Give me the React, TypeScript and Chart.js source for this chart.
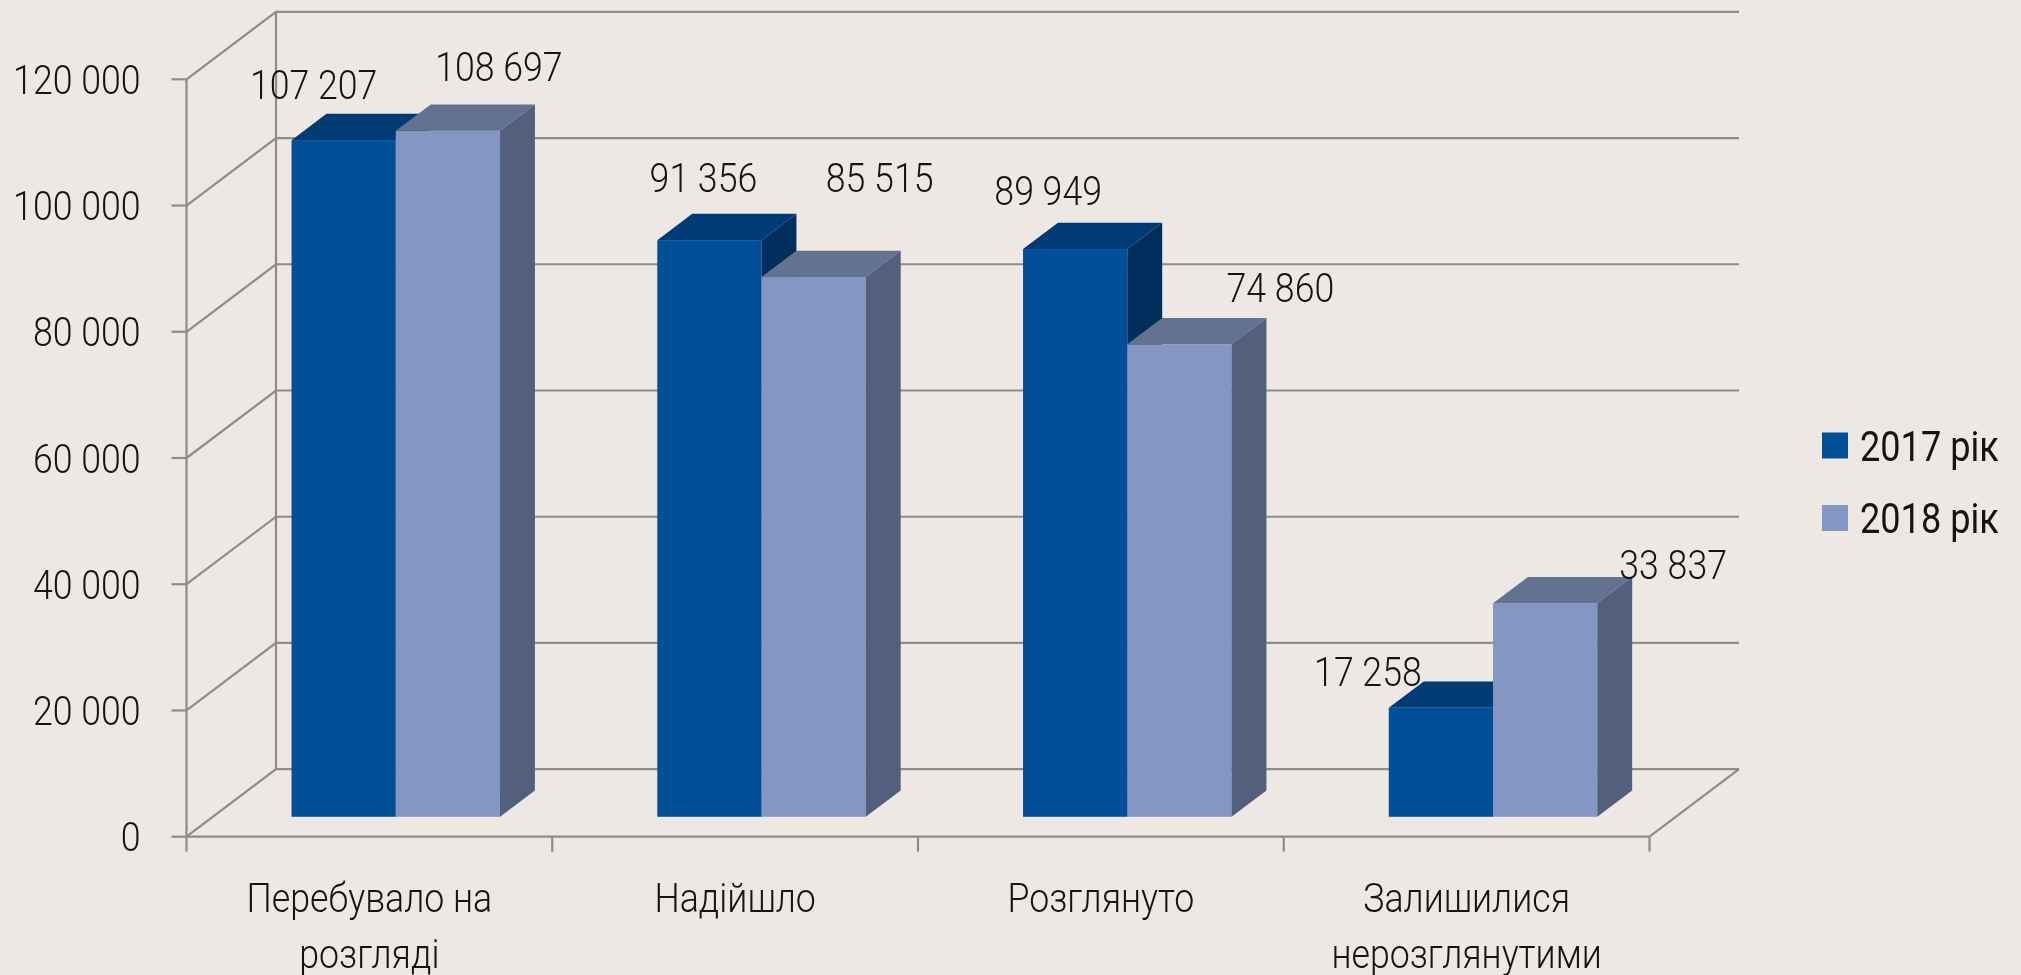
import { useEffect, useRef } from 'react';
import { Chart, registerables } from 'chart.js';

Chart.register(...registerables);

// ---------- data ----------
const categories: string[][] = [
  ['Перебувало на', 'розгляді'],
  ['Надійшло'],
  ['Розглянуто'],
  ['Залишилися', 'нерозглянутими'],
];
const seriesNames = ['2017 рік', '2018 рік'];
const values2017 = [107207, 91356, 89949, 17258];
const values2018 = [108697, 85515, 74860, 33837];
const yTicks = [0, 20000, 40000, 60000, 80000, 100000, 120000];

// ---------- style ----------
const BG = '#EEE8E5';
const GRID = '#8C8C8C';
const TEXT = '#141414';
const FRONT = ['#004F98', '#8497C4'];
const TOP = ['#003B75', '#637291'];
const SIDE = ['#002F5E', '#535F7C'];
const DEPTH = { x: 89.5, y: -67.5 }; // depth of the floor / back wall
const BAR_FRONT = 0.295; // bar front plane (fraction of depth)
const BAR_BACK = 0.685; // bar back plane (fraction of depth)
const LIGHT_FONT = 41;
const SQUEEZE = 0.87;
const LEGEND_FONT = 43;
const LEGEND_SQUEEZE = 0.84;
// data label offsets from each bar's top-front centre (px)
const labelOffset2017 = [[-30, -56], [-6, -63], [-27, -59], [-73, -36]];
const labelOffset2018 = [[51, -64], [66, -100], [101, -57], [128, -39]];

const fmt = (v: number) => String(v).replace(/\B(?=(\d{3})+(?!\d))/g, ' ');

function drawText(
  ctx: CanvasRenderingContext2D,
  text: string,
  x: number,
  baseline: number,
  align: CanvasTextAlign,
  font: string,
  sx: number
) {
  ctx.save();
  ctx.translate(x, baseline);
  ctx.scale(sx, 1);
  ctx.font = font;
  ctx.fillStyle = TEXT;
  ctx.textAlign = align;
  ctx.textBaseline = 'alphabetic';
  ctx.fillText(text, 0, 0);
  ctx.restore();
}

const pseudo3d = {
  id: 'pseudo3d',
  beforeDraw(chart: any) {
    const ctx = chart.ctx as CanvasRenderingContext2D;
    ctx.save();
    ctx.fillStyle = BG;
    ctx.fillRect(0, 0, chart.width, chart.height);
    ctx.restore();
  },
  beforeDatasetsDraw(chart: any) {
    const ctx = chart.ctx as CanvasRenderingContext2D;
    const xs = chart.scales.x;
    const ys = chart.scales.y;
    const L = chart.chartArea.left;
    const R = chart.chartArea.right;
    const B = ys.getPixelForValue(yTicks[0]);
    const T = ys.getPixelForValue(yTicks[yTicks.length - 1]);
    const lightFont = `300 ${LIGHT_FONT}px Roboto`;

    ctx.save();
    ctx.strokeStyle = GRID;
    ctx.lineWidth = 2.2;
    ctx.lineJoin = 'miter';

    // back wall grid lines with diagonals + y ticks
    yTicks.forEach((v) => {
      const y = ys.getPixelForValue(v);
      ctx.beginPath();
      ctx.moveTo(L, y);
      ctx.lineTo(L + DEPTH.x, y + DEPTH.y);
      ctx.lineTo(R + DEPTH.x, y + DEPTH.y);
      ctx.stroke();
      ctx.beginPath();
      ctx.moveTo(L - 15, y);
      ctx.lineTo(L, y);
      ctx.stroke();
    });
    // back wall left edge
    ctx.beginPath();
    ctx.moveTo(L + DEPTH.x, B + DEPTH.y);
    ctx.lineTo(L + DEPTH.x, T + DEPTH.y);
    ctx.stroke();
    // front y axis
    ctx.beginPath();
    ctx.moveTo(L, B);
    ctx.lineTo(L, T);
    ctx.stroke();
    // floor front edge + right edge
    ctx.beginPath();
    ctx.moveTo(L, B);
    ctx.lineTo(R, B);
    ctx.lineTo(R + DEPTH.x, B + DEPTH.y);
    ctx.stroke();
    // x ticks at category boundaries
    const n = categories.length;
    for (let i = 0; i <= n; i++) {
      let bx: number;
      if (i === 0) bx = L;
      else if (i === n) bx = R;
      else bx = (xs.getPixelForValue(i - 1) + xs.getPixelForValue(i)) / 2;
      ctx.beginPath();
      ctx.moveTo(bx, B);
      ctx.lineTo(bx, B + 15);
      ctx.stroke();
    }
    ctx.restore();

    // bars
    const fx = DEPTH.x * BAR_FRONT;
    const fy = DEPTH.y * BAR_FRONT;
    const dx = DEPTH.x * (BAR_BACK - BAR_FRONT);
    const dy = DEPTH.y * (BAR_BACK - BAR_FRONT);
    const tops: { x: number; y: number; ds: number; i: number; v: number }[] = [];
    for (let i = 0; i < n; i++) {
      for (let ds = 0; ds < 2; ds++) {
        const el = chart.getDatasetMeta(ds).data[i];
        const p = el.getProps(['x', 'y', 'base', 'width'], true);
        const left = p.x - p.width / 2 + fx;
        const right = p.x + p.width / 2 + fx;
        const top = p.y + fy;
        const bottom = p.base + fy;
        ctx.save();
        ctx.fillStyle = FRONT[ds];
        ctx.fillRect(left, top, right - left, bottom - top);
        ctx.fillStyle = TOP[ds];
        ctx.beginPath();
        ctx.moveTo(left, top);
        ctx.lineTo(right, top);
        ctx.lineTo(right + dx, top + dy);
        ctx.lineTo(left + dx, top + dy);
        ctx.closePath();
        ctx.fill();
        ctx.fillStyle = SIDE[ds];
        ctx.beginPath();
        ctx.moveTo(right, top);
        ctx.lineTo(right + dx, top + dy);
        ctx.lineTo(right + dx, bottom + dy);
        ctx.lineTo(right, bottom);
        ctx.closePath();
        ctx.fill();
        ctx.restore();
        const values = ds === 0 ? values2017 : values2018;
        tops.push({ x: p.x + fx, y: top, ds, i, v: values[i] });
      }
    }

    // data labels
    tops.forEach((t) => {
      const off = (t.ds === 0 ? labelOffset2017 : labelOffset2018)[t.i];
      const cx = t.x + off[0];
      const cy = t.y + off[1];
      drawText(ctx, fmt(t.v), cx, cy + 0.355 * LIGHT_FONT, 'center', lightFont, SQUEEZE);
    });

    // y tick labels
    yTicks.forEach((v) => {
      const y = ys.getPixelForValue(v);
      drawText(ctx, fmt(v), L - 46, y + 0.355 * LIGHT_FONT, 'right', lightFont, SQUEEZE);
    });

    // category labels
    categories.forEach((lines, i) => {
      const cx = xs.getPixelForValue(i);
      lines.forEach((line, k) => {
        drawText(ctx, line, cx, B + 75 + k * 56.5, 'center', lightFont, SQUEEZE);
      });
    });

    // legend
    const legendX = 1822;
    const legendY = [445.5, 518];
    seriesNames.forEach((name, k) => {
      ctx.save();
      ctx.fillStyle = FRONT[k];
      ctx.fillRect(legendX, legendY[k] - 13, 26, 26);
      ctx.restore();
      drawText(
        ctx,
        name,
        legendX + 38,
        legendY[k] + 0.355 * LEGEND_FONT,
        'left',
        `400 ${LEGEND_FONT}px Roboto`,
        LEGEND_SQUEEZE
      );
    });

    return false;
  },
};

export default function App() {
  const ref = useRef<HTMLCanvasElement | null>(null);
  useEffect(() => {
    if (!ref.current) return;
    const chart = new Chart(ref.current, {
      type: 'bar',
      data: {
        labels: categories,
        datasets: [
          { label: seriesNames[0], data: values2017, backgroundColor: FRONT[0] },
          { label: seriesNames[1], data: values2018, backgroundColor: FRONT[1] },
        ],
      },
      options: {
        responsive: false,
        animation: false,
        devicePixelRatio: 1,
        datasets: { bar: { barPercentage: 1, categoryPercentage: 0.57 } },
        layout: { padding: { left: 186.5, right: 2021 - 1649.5, top: 79.3, bottom: 975 - 836.7 } },
        scales: {
          x: { display: false, offset: true },
          y: { display: false, min: 0, max: 120000 },
        },
        plugins: { legend: { display: false }, tooltip: { enabled: false } },
      },
      plugins: [pseudo3d],
    } as any);
    return () => chart.destroy();
  }, []);
  return (
    <div style={{ position: 'fixed', left: 0, top: 0, width: 2021, height: 975, background: BG }}>
      <canvas ref={ref} width={2021} height={975} style={{ display: 'block' }} />
    </div>
  );
}
